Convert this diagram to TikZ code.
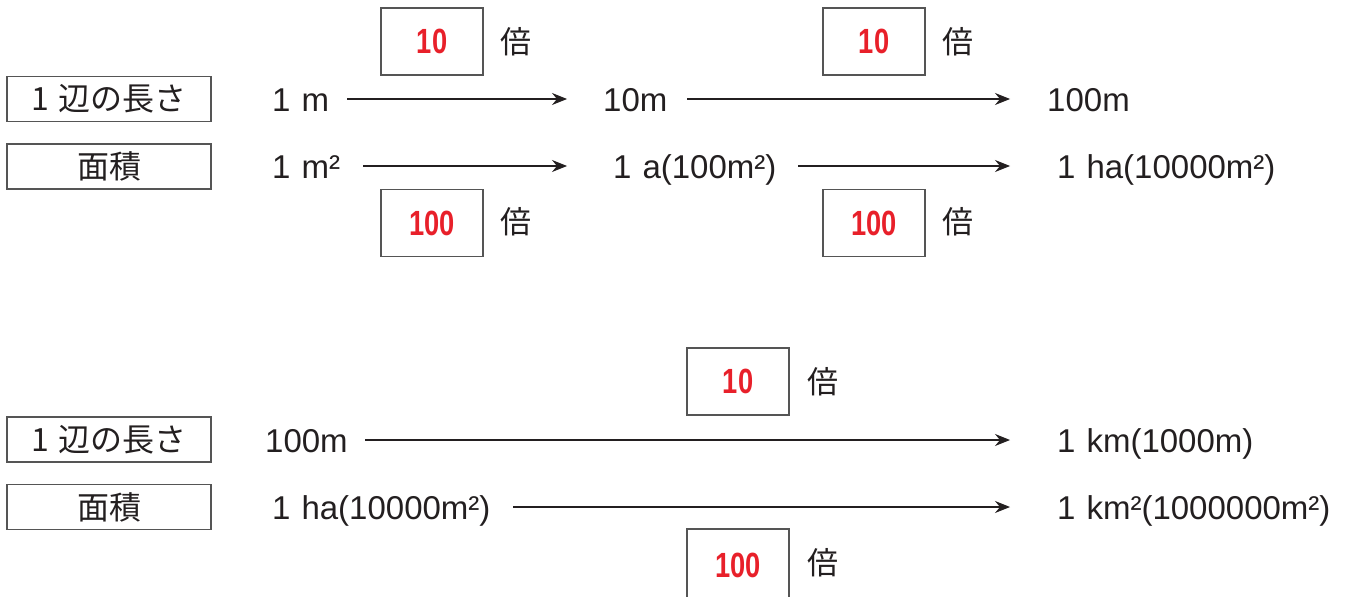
\documentclass[tikz,border=0pt]{standalone}
\usepackage{fontspec}
\setmainfont{Liberation Sans}
\newfontfamily\jp{Noto Sans CJK JP}
\usetikzlibrary{arrows.meta}
\definecolor{boxgray}{HTML}{555555}
\definecolor{numred}{HTML}{E8202A}
\definecolor{txt}{HTML}{231F20}
\begin{document}
\begin{tikzpicture}[x=1pt,y=-1pt,
  lab/.style={draw=boxgray, line width=1.2pt, minimum width=204pt, minimum height=45pt, inner sep=0pt, font=\jp\fontsize{32}{32}\selectfont, text=txt},
  val/.style={anchor=west, inner sep=0pt, text height=25pt, text depth=0pt, font=\fontsize{33}{33}\selectfont, text=txt, align=left},
  ans/.style={draw=boxgray, line width=1.2pt, minimum width=102pt, minimum height=67pt, inner sep=0pt, text=numred, font=\bfseries\fontsize{35}{35}\selectfont},
  bai/.style={font=\jp\fontsize{31}{31}\selectfont, text=txt, inner sep=0pt},
  arr/.style={-{Stealth[length=15pt,width=12pt,inset=5pt]}, line width=1.1pt, draw=txt}
]
\useasboundingbox (0,0) rectangle (1347,597);

% ---------- top section ----------
\node[lab] (L1) at (109,99) {1\hspace{10pt}辺の長さ};
\node[lab] (A1) at (109,166.5) {面積};

\node[val, text width=53pt] (a1) at (272,99) {\mbox{1 m}};
\node[val, text width=62pt] (a2) at (603,99) {\mbox{10m}};
\node[val, text width=78pt] (a3) at (1047,99) {\mbox{100m}};

\node[val, text width=68pt] (b1) at (272,166) {\mbox{1 m²}};
\node[val, text width=165pt] (b2) at (613,166) {\mbox{1 a(100m²)}};
\node[val, text width=220pt] (b3) at (1057,166) {\mbox{1 ha(10000m²)}};

\draw[arr] ([xshift=22pt]a1.east) -- ([xshift=-36pt]a2.west);
\draw[arr] ([xshift=22pt]a2.east) -- ([xshift=-37pt]a3.west);
\draw[arr] ([xshift=23pt]b1.east) -- ([xshift=-46pt]b2.west);
\draw[arr] ([xshift=20pt]b2.east) -- ([xshift=-47pt]b3.west);

\node[ans] (r1) at (432,41.5) {\scalebox{0.78}[1]{10}};
\node[bai] (t1) at (516,42) {倍};
\node[ans] (r2) at (874,41.5) {\scalebox{0.78}[1]{10}};
\node[bai] (t2) at (958,42) {倍};
\node[ans] (r3) at (432,223) {\scalebox{0.78}[1]{100}};
\node[bai] (t3) at (516,222) {倍};
\node[ans] (r4) at (874,223) {\scalebox{0.78}[1]{100}};
\node[bai] (t4) at (958,222) {倍};

% ---------- bottom section ----------
\node[lab] (L2) at (109,439.5) {1\hspace{10pt}辺の長さ};
\node[lab] (A2) at (109,507) {面積};

\node[val, text width=78pt] (c1) at (265,440) {\mbox{100m}};
\node[val, text width=198pt] (c2) at (1057,440) {\mbox{1 km(1000m)}};
\node[val, text width=221pt] (d1) at (272,507) {\mbox{1 ha(10000m²)}};
\node[val, text width=273pt] (d2) at (1057,507) {\mbox{1 km²(1000000m²)}};

\draw[arr] ([xshift=22pt]c1.east) -- ([xshift=-47pt]c2.west);
\draw[arr] ([xshift=20pt]d1.east) -- ([xshift=-47pt]d2.west);

\node[ans] (r5) at (738,381.5) {\scalebox{0.78}[1]{10}};
\node[bai] (t5) at (823,382) {倍};
\node[ans, minimum height=72pt] (r6) at (738,565) {\scalebox{0.78}[1]{100}};
\node[bai] (t6) at (823,563) {倍};
\end{tikzpicture}
\end{document}
